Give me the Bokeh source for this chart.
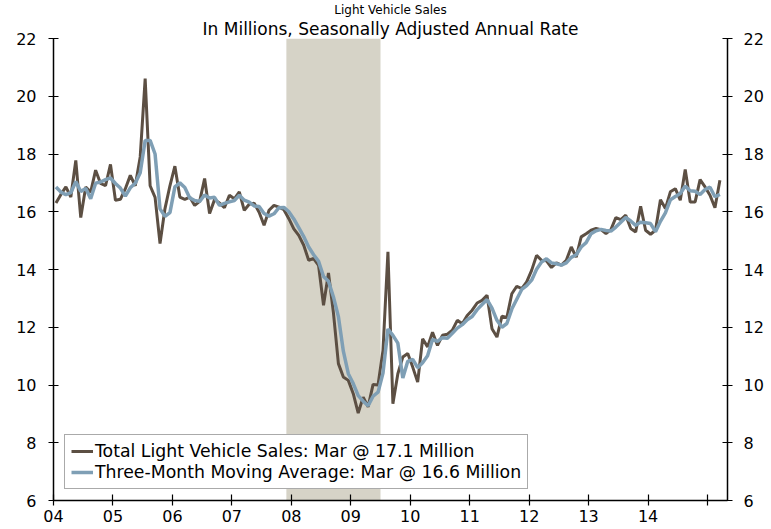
from bokeh.plotting import figure
from bokeh.models import Range1d, LinearAxis, FixedTicker, BoxAnnotation, Legend, LegendItem, Title
from bokeh.embed import file_html
from bokeh.resources import INLINE

title_text = "Light Vehicle Sales"
subtitle_text = "In Millions, Seasonally Adjusted Annual Rate"

start_year = 2004
# Total light vehicle sales, monthly Jan 2004 - Mar 2015 (millions, SAAR)
total_sales = [
    16.30, 16.60, 16.86, 16.51, 17.78, 15.80, 16.86, 16.68, 17.44, 16.98, 16.90, 17.64,
    16.40, 16.43, 16.80, 17.26, 16.90, 17.90, 20.61, 16.90, 16.50, 14.90, 16.11, 16.90,
    17.58, 16.51, 16.43, 16.51, 16.22, 16.36, 17.15, 15.94, 16.42, 16.30, 16.14, 16.57,
    16.45, 16.69, 16.05, 16.26, 16.30, 15.98, 15.53, 16.05, 16.22, 16.16, 16.07, 15.76,
    15.41, 15.18, 14.84, 14.32, 14.38, 14.14, 12.76, 13.88, 12.50, 10.74, 10.28, 10.16,
    9.70, 9.03, 9.58, 9.24, 10.02, 10.00, 11.20, 14.61, 9.35, 10.39, 10.97, 11.09,
    10.62, 10.10, 11.60, 11.32, 11.83, 11.37, 11.72, 11.76, 11.90, 12.24, 12.12, 12.41,
    12.59, 12.84, 12.93, 13.11, 11.95, 11.66, 12.38, 12.34, 13.16, 13.42, 13.34, 13.57,
    13.97, 14.49, 14.32, 14.30, 14.07, 14.23, 14.15, 14.32, 14.78, 14.43, 15.13, 15.24,
    15.36, 15.42, 15.38, 15.24, 15.38, 15.80, 15.73, 15.88, 15.42, 15.30, 16.19, 15.36,
    15.22, 15.36, 16.42, 16.11, 16.69, 16.80, 16.40, 17.46, 16.34, 16.34, 17.11, 16.86,
    16.57, 16.14, 17.09,
]
# Three-month moving average
moving_avg = [
    16.86, 16.68, 16.59, 16.66, 17.05, 16.70, 16.81, 16.45, 16.99, 17.03, 17.11, 17.17,
    16.98, 16.82, 16.54, 16.83, 16.99, 17.35, 18.47, 18.47, 18.00, 16.10, 15.84, 15.97,
    16.86, 17.00, 16.84, 16.48, 16.39, 16.36, 16.58, 16.48, 16.50, 16.22, 16.29, 16.34,
    16.39, 16.57, 16.40, 16.33, 16.20, 16.18, 15.94, 15.85, 15.93, 16.14, 16.15, 16.00,
    15.75, 15.45, 15.14, 14.78, 14.51, 14.28, 13.76, 13.59, 13.05, 12.37, 11.17, 10.39,
    10.05, 9.63, 9.44, 9.28, 9.61, 9.75, 10.41, 11.94, 11.72, 11.45, 10.24, 10.82,
    10.89, 10.60, 10.77, 11.01, 11.58, 11.51, 11.64, 11.62, 11.79, 11.97, 12.09, 12.26,
    12.37, 12.61, 12.79, 12.96, 12.66, 12.24, 12.00, 12.13, 12.63, 12.97, 13.31, 13.44,
    13.63, 14.01, 14.26, 14.37, 14.23, 14.20, 14.15, 14.23, 14.42, 14.51, 14.78, 14.93,
    15.24, 15.34, 15.39, 15.35, 15.33, 15.47, 15.64, 15.80, 15.68, 15.53, 15.64, 15.62,
    15.59, 15.31, 15.67, 15.96, 16.41, 16.53, 16.63, 16.89, 16.73, 16.71, 16.60, 16.77,
    16.85, 16.52, 16.60,
]
last_month = "Mar"

year_ticks = list(range(2004, 2016))
year_labels = ["04", "05", "06", "07", "08", "09", "10", "11", "12", "13", "14", ""]
y_ticks = [6, 8, 10, 12, 14, 16, 18, 20, 22]

recession_start = 2007 + 11 / 12   # Dec 2007
recession_end = 2009 + 6 / 12      # Jun 2009

x = [start_year + (i + 0.5) / 12 for i in range(len(total_sales))]

FONT = "DejaVu Sans"
BROWN = "#5c4f43"
BLUE = "#7f9fb5"

p = figure(width=771, height=529, title=None,
           x_range=Range1d(2004, 2015.336), y_range=Range1d(6, 22),
           output_backend="svg", toolbar_location=None,
           min_border_left=53, min_border_right=44, min_border_top=38, min_border_bottom=29,
           background_fill_color="white", border_fill_color="white")
p.outline_line_color = None

sub = Title(text=subtitle_text, align="center", text_font=FONT, text_font_size="17px",
            text_font_style="normal", text_color="black", standoff=0)
p.add_layout(sub, "above")
main = Title(text=title_text, align="center", text_font=FONT, text_font_size="12px",
             text_font_style="normal", text_color="black", standoff=0)
p.add_layout(main, "above")

rec = BoxAnnotation(left=recession_start, right=recession_end,
                    fill_color="#d6d3c7", fill_alpha=1.0, line_color=None, level="underlay")
p.add_layout(rec)

r1 = p.line(x, total_sales, line_color=BROWN, line_width=3)
r2 = p.line(x, moving_avg, line_color=BLUE, line_width=3.5)

p.xgrid.visible = False
p.ygrid.ticker = FixedTicker(ticks=[22])
p.ygrid.grid_line_color = "#8c8c8c"
p.ygrid.grid_line_width = 2

right_axis = LinearAxis()
p.add_layout(right_axis, "right")

p.xaxis.ticker = FixedTicker(ticks=year_ticks)
p.xaxis.major_label_overrides = {t: l for t, l in zip(year_ticks, year_labels)}
p.xaxis.major_label_text_font_size = "16px"
p.xaxis.major_label_standoff = 4
p.xaxis.major_tick_in = 6
p.xaxis.major_tick_out = 5

for ax in [p.yaxis[0], right_axis]:
    ax.ticker = FixedTicker(ticks=y_ticks)
    ax.major_label_text_font_size = "16px"
    ax.major_tick_in = 5
    ax.major_tick_out = 5
p.yaxis[0].major_label_standoff = 12
right_axis.major_label_standoff = 11

for ax in [p.xaxis[0], p.yaxis[0], right_axis]:
    ax.axis_label_standoff = 0
    ax.axis_line_color = "black"
    ax.axis_line_width = 1.5
    ax.major_tick_line_color = "black"
    ax.major_tick_line_width = 1.2
    ax.minor_tick_line_color = None
    ax.major_label_text_font = FONT
    ax.major_label_text_color = "black"

legend = Legend(items=[
    LegendItem(label=f"Total Light Vehicle Sales: {last_month} @ {total_sales[-1]:.1f} Million", renderers=[r1]),
    LegendItem(label=f"Three-Month Moving Average: {last_month} @ {moving_avg[-1]:.1f} Million", renderers=[r2]),
], location="bottom_left", margin=11, padding=6, spacing=1,
    glyph_width=22, glyph_height=20, label_height=20, label_standoff=2,
    label_text_font=FONT, label_text_font_size="17.3px", label_text_color="black",
    border_line_color="#555555", border_line_width=1,
    background_fill_color="white", background_fill_alpha=1.0)
p.add_layout(legend)

open("out.html", "w").write(file_html(p, INLINE))
